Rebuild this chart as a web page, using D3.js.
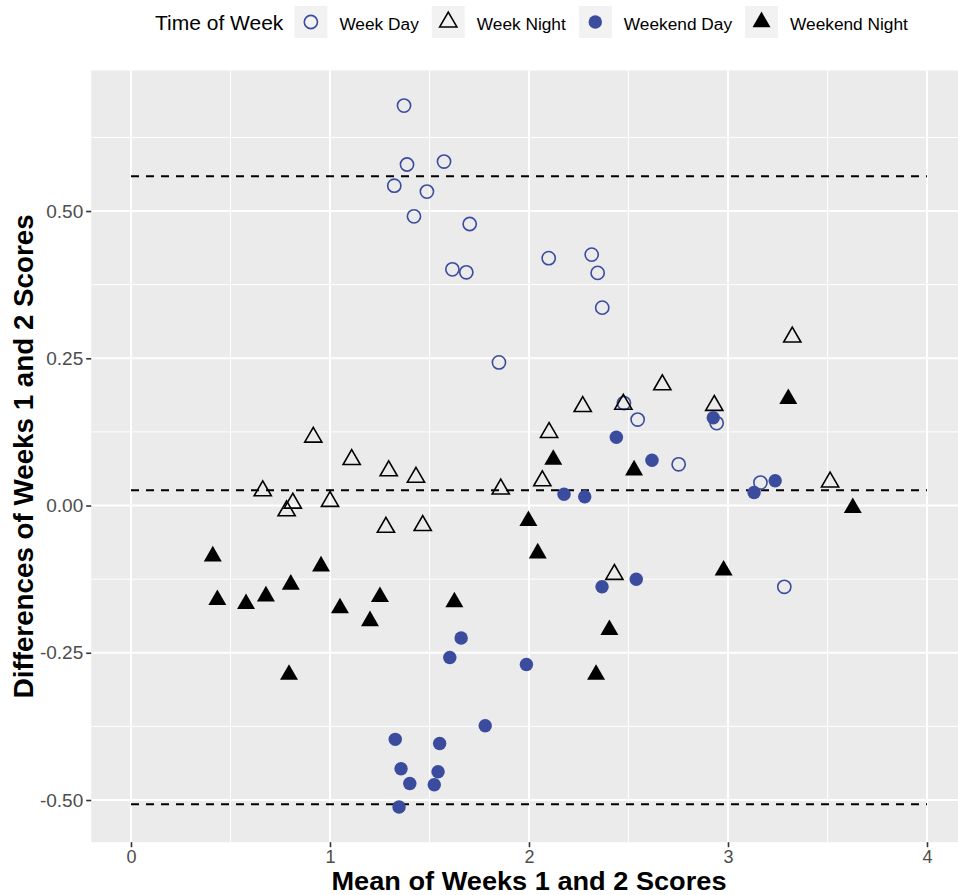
<!DOCTYPE html>
<html>
<head>
<meta charset="utf-8">
<script src="https://cdn.jsdelivr.net/npm/d3@7/dist/d3.min.js"></script>
<style>
  html, body { margin: 0; padding: 0; background: #ffffff; }
  svg { display: block; font-family: "Liberation Sans", Arial, Helvetica, sans-serif; }
</style>
</head>
<body>
<svg id="chart" width="958" height="895"></svg>
<script>
// ---------------- data ----------------
const categories = ["Week Day", "Week Night", "Weekend Day", "Weekend Night"];

const weekDayX   = [1.372, 1.387, 1.323, 1.573, 1.487, 1.422, 1.702, 1.615, 1.685, 1.849,
                    2.099, 2.315, 2.345, 2.368, 2.477, 2.546, 2.752, 2.943, 3.163, 3.283];
const weekDayY   = [0.679, 0.579, 0.543, 0.584, 0.533, 0.491, 0.478, 0.401, 0.396, 0.243,
                    0.420, 0.426, 0.395, 0.336, 0.174, 0.146, 0.070, 0.140, 0.039, -0.138];

const weekNightX = [0.916, 1.109, 1.295, 1.432, 0.662, 0.813, 0.782, 1.000, 1.281, 1.466,
                    1.858, 2.067, 2.101, 2.270, 2.474, 2.670, 2.931, 3.323, 3.513, 2.429];
const weekNightY = [0.116, 0.078, 0.059, 0.048, 0.025, 0.004, -0.009, 0.007, -0.037, -0.034,
                    0.028, 0.042, 0.124, 0.168, 0.172, 0.205, 0.170, 0.286, 0.040, -0.117];

const weekendDayX = [2.439, 2.618, 2.176, 2.280, 2.926, 3.131, 3.237, 2.367, 2.539, 1.659,
                     1.602, 1.987, 1.780, 1.328, 1.551, 1.357, 1.543, 1.401, 1.524, 1.347];
const weekendDayY = [0.116, 0.077, 0.019, 0.015, 0.149, 0.022, 0.042, -0.138, -0.125, -0.225,
                     -0.258, -0.270, -0.374, -0.397, -0.404, -0.447, -0.452, -0.472, -0.474, -0.512];

const weekendNightX = [0.411, 0.434, 0.578, 0.678, 0.803, 0.955, 1.050, 1.251, 1.201, 1.625,
                       0.794, 1.997, 2.044, 2.404, 2.337, 2.978, 2.122, 2.528, 3.303, 3.627];
const weekendNightY = [-0.086, -0.160, -0.167, -0.154, -0.134, -0.103, -0.174, -0.155, -0.196, -0.164,
                       -0.287, -0.026, -0.081, -0.211, -0.287, -0.110, 0.078, 0.060, 0.181, -0.004];

// Bland-Altman reference lines (upper LoA, mean difference, lower LoA), drawn from x=0 to x=4
const refLineY = [0.559, 0.026, -0.507];
const refLineX = [0, 4];

const xTickValues = [0, 1, 2, 3, 4];
const xTickLabels = ["0", "1", "2", "3", "4"];
const yTickValues = [-0.5, -0.25, 0, 0.25, 0.5];
const yTickLabels = ["-0.50", "-0.25", "0.00", "0.25", "0.50"];
const xMinor = [0.5, 1.5, 2.5, 3.5];
const yMinor = [-0.375, -0.125, 0.125, 0.375, 0.625];

const xTitle = "Mean of Weeks 1 and 2 Scores";
const yTitle = "Differences of Weeks 1 and 2 Scores";
const legendTitle = "Time of Week";

// ---------------- styles ----------------
const BLUE = "#3B4C9E";
const styles = {
  "Week Day":      { type: d3.symbolCircle,   size: 137, fill: "none",  stroke: BLUE,   sw: 1.6 },
  "Week Night":    { type: d3.symbolTriangle, size: 128, fill: "none",  stroke: "#000", sw: 1.6 },
  "Weekend Day":   { type: d3.symbolCircle,   size: 142, fill: BLUE,    stroke: "none", sw: 0 },
  "Weekend Night": { type: d3.symbolTriangle, size: 140, fill: "#000",  stroke: "none", sw: 0 }
};

const seriesX = [weekDayX, weekNightX, weekendDayX, weekendNightX];
const seriesY = [weekDayY, weekNightY, weekendDayY, weekendNightY];
const points = [];
categories.forEach((c, i) => {
  seriesX[i].forEach((xv, j) => points.push({ cat: c, x: xv, y: seriesY[i][j] }));
});

// ---------------- layout ----------------
const svg = d3.select("#chart");
const x = d3.scaleLinear().domain([-0.2, 4.2]).range([91.2, 966.8]);
const y = d3.scaleLinear().domain([-0.5716, 0.7386]).range([842.2, 70.5]);

const [px0, px1] = x.range();
const [py1, py0] = y.range();

// panel
svg.append("rect")
  .attr("x", px0).attr("y", py0)
  .attr("width", px1 - px0).attr("height", py1 - py0)
  .attr("fill", "#EBEBEB");

const grid = svg.append("g");
// minor grid
grid.selectAll(".xminor").data(xMinor).join("line")
  .attr("x1", d => x(d)).attr("x2", d => x(d)).attr("y1", py0).attr("y2", py1)
  .attr("stroke", "#fff").attr("stroke-width", 1);
grid.selectAll(".yminor").data(yMinor).join("line")
  .attr("y1", d => y(d)).attr("y2", d => y(d)).attr("x1", px0).attr("x2", px1)
  .attr("stroke", "#fff").attr("stroke-width", 1);
// major grid
grid.selectAll(".xmajor").data(xTickValues).join("line")
  .attr("x1", d => x(d)).attr("x2", d => x(d)).attr("y1", py0).attr("y2", py1)
  .attr("stroke", "#fff").attr("stroke-width", 2);
grid.selectAll(".ymajor").data(yTickValues).join("line")
  .attr("y1", d => y(d)).attr("y2", d => y(d)).attr("x1", px0).attr("x2", px1)
  .attr("stroke", "#fff").attr("stroke-width", 2);

// reference lines
svg.append("g").selectAll("line").data(refLineY).join("line")
  .attr("x1", x(refLineX[0])).attr("x2", x(refLineX[1]))
  .attr("y1", d => y(d)).attr("y2", d => y(d))
  .attr("stroke", "#000").attr("stroke-width", 2)
  .attr("stroke-dasharray", "8,7");

// points
svg.append("g").selectAll("path").data(points).join("path")
  .attr("transform", d => `translate(${x(d.x)},${y(d.y)})`)
  .attr("d", d => d3.symbol().type(styles[d.cat].type).size(styles[d.cat].size)())
  .attr("fill", d => styles[d.cat].fill)
  .attr("stroke", d => styles[d.cat].stroke)
  .attr("stroke-width", d => styles[d.cat].sw);

// axes
const xAxis = svg.append("g").attr("transform", `translate(0,${py1})`)
  .call(d3.axisBottom(x).tickValues(xTickValues).tickFormat((d, i) => xTickLabels[i])
        .tickSize(5).tickPadding(3).tickSizeOuter(0));
const yAxis = svg.append("g").attr("transform", `translate(${px0},0)`)
  .call(d3.axisLeft(y).tickValues(yTickValues).tickFormat((d, i) => yTickLabels[i])
        .tickSize(5).tickPadding(3).tickSizeOuter(0));
[xAxis, yAxis].forEach(a => {
  a.select(".domain").remove();
  a.selectAll(".tick line").attr("stroke", "#333333").attr("stroke-width", 1.6);
  a.selectAll(".tick text").attr("fill", "#4D4D4D")
    .style("font-family", "'Liberation Sans', Arial, sans-serif");
});
yAxis.selectAll(".tick text").style("font-size", "19px");
xAxis.selectAll(".tick text").style("font-size", "18px").attr("dy", "0.71em");

// axis titles
svg.append("text")
  .attr("x", (px0 + px1) / 2).attr("y", 889.7)
  .attr("text-anchor", "middle")
  .style("font-size", "25px").style("font-weight", "bold")
  .attr("textLength", 395).attr("lengthAdjust", "spacingAndGlyphs")
  .text(xTitle);

svg.append("text")
  .attr("transform", `translate(33,${(py0 + py1) / 2}) rotate(-90)`)
  .attr("text-anchor", "middle")
  .style("font-size", "28px").style("font-weight", "bold")
  .attr("textLength", 484).attr("lengthAdjust", "spacingAndGlyphs")
  .text(yTitle);

// legend
const leg = svg.append("g");
const titleT = leg.append("text")
  .attr("x", 155).attr("y", 30)
  .style("font-size", "21px").attr("fill", "#000")
  .text(legendTitle);
let cx = 155 + titleT.node().getComputedTextLength() + 11;
categories.forEach(c => {
  const s = styles[c];
  leg.append("rect").attr("x", cx).attr("y", 6).attr("width", 33).attr("height", 32)
    .attr("fill", "#F2F2F2");
  leg.append("path")
    .attr("transform", `translate(${cx + 16.5},${22})`)
    .attr("d", d3.symbol().type(s.type).size(s.size)())
    .attr("fill", s.fill).attr("stroke", s.stroke).attr("stroke-width", s.sw);
  const t = leg.append("text").attr("x", cx + 33 + 12).attr("y", 29.5)
    .style("font-size", "17.3px").attr("fill", "#000").text(c);
  cx = cx + 33 + 12 + t.node().getComputedTextLength() + 13;
});
</script>
</body>
</html>
